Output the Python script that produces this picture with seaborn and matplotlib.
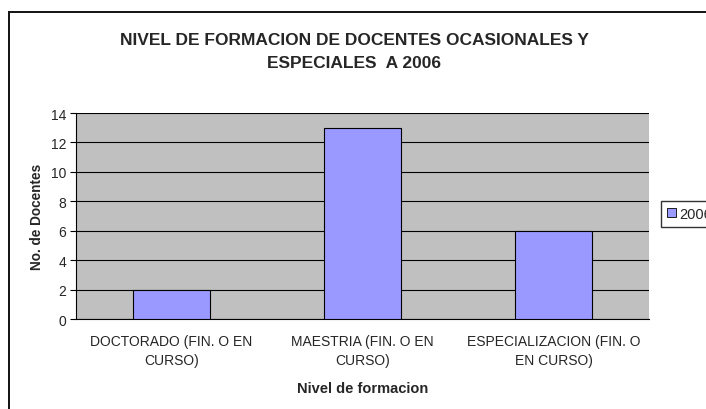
import matplotlib

matplotlib.use("Agg")
import matplotlib.pyplot as plt
import numpy as np
import pandas as pd
import seaborn as sns
from matplotlib.patches import Patch, Rectangle


TITLE = "NIVEL DE FORMACION DE DOCENTES OCASIONALES Y\nESPECIALES  A 2006"
CATEGORIES = [
    "DOCTORADO (FIN. O EN\nCURSO)",
    "MAESTRIA (FIN. O EN\nCURSO)",
    "ESPECIALIZACION (FIN. O\nEN CURSO)",
]
DOCENTES_2006 = [2, 13, 6]
Y_TICKS = [0, 2, 4, 6, 8, 10, 12, 14]
SERIES_LABEL = "2006"

BAR_COLOR = "#9999FF"
PLOT_BG = "#C0C0C0"


def main() -> None:
    sns.set_theme(style="white")
    plt.rcParams["font.family"] = ["Liberation Sans", "DejaVu Sans"]

    df = pd.DataFrame({"nivel": CATEGORIES, "docentes": DOCENTES_2006})

    fig = plt.figure(figsize=(7.06, 4.10), dpi=100)
    fig.patch.set_facecolor("white")

    # outer chart frame (continues past the right / bottom edge)
    fig.patches.append(
        Rectangle((9 / 706, -0.2), 2.0, 1.2 - 13 / 410, transform=fig.transFigure,
                  fill=False, edgecolor="#111111", linewidth=1.4, zorder=0)
    )

    ax = fig.add_axes([76 / 706, 1 - 320 / 410, 573 / 706, 206 / 410])
    ax.set_facecolor(PLOT_BG)

    sns.barplot(data=df, x="nivel", y="docentes", color=BAR_COLOR, edgecolor="black",
                linewidth=0.8, width=0.4, saturation=1, ax=ax, zorder=3)

    ax.set_xlim(-0.5, len(CATEGORIES) - 0.5)
    ax.set_ylim(0, 14)
    ax.set_yticks(Y_TICKS)
    ax.set_yticklabels([str(t) for t in Y_TICKS], fontsize=10)
    ax.yaxis.grid(True, color="black", linewidth=0.8, zorder=1)
    ax.set_axisbelow(True)

    ax.set_xticks(np.arange(len(CATEGORIES)))
    ax.set_xticklabels(CATEGORIES, fontsize=10, linespacing=1.4)
    ax.set_xticks(np.arange(len(CATEGORIES) + 1) - 0.5, minor=True)
    ax.tick_params(axis="x", which="major", length=0, pad=11)
    ax.tick_params(axis="x", which="minor", length=4, width=0.8, color="black", direction="out")
    ax.tick_params(axis="y", length=4, width=0.8, color="black", direction="out", left=True, pad=3)

    for side in ["top", "right"]:
        ax.spines[side].set_visible(False)
    for side in ["left", "bottom"]:
        ax.spines[side].set_color("black")
        ax.spines[side].set_linewidth(0.8)

    ax.set_xlabel("Nivel de formacion", fontsize=10.5, fontweight="bold", labelpad=10)
    ax.set_ylabel("No. de Docentes", fontsize=9.8, fontweight="bold", labelpad=5)

    fig.text(354 / 706, 1 - 52 / 410, TITLE, ha="center", va="center", fontsize=12.5,
             fontweight="bold", linespacing=1.6)

    handle = Patch(facecolor=BAR_COLOR, edgecolor="black", linewidth=0.6)
    fig.legend([handle], [SERIES_LABEL], loc="upper left",
               bbox_to_anchor=(661 / 706, 1 - 202 / 410), frameon=True, fancybox=False,
               edgecolor="black", fontsize=10.5, handlelength=0.6, handleheight=0.6,
               handletextpad=0.25, borderpad=0.4, borderaxespad=0)

    fig.savefig("out.png", dpi=100)
    plt.close(fig)


if __name__ == "__main__":
    main()
